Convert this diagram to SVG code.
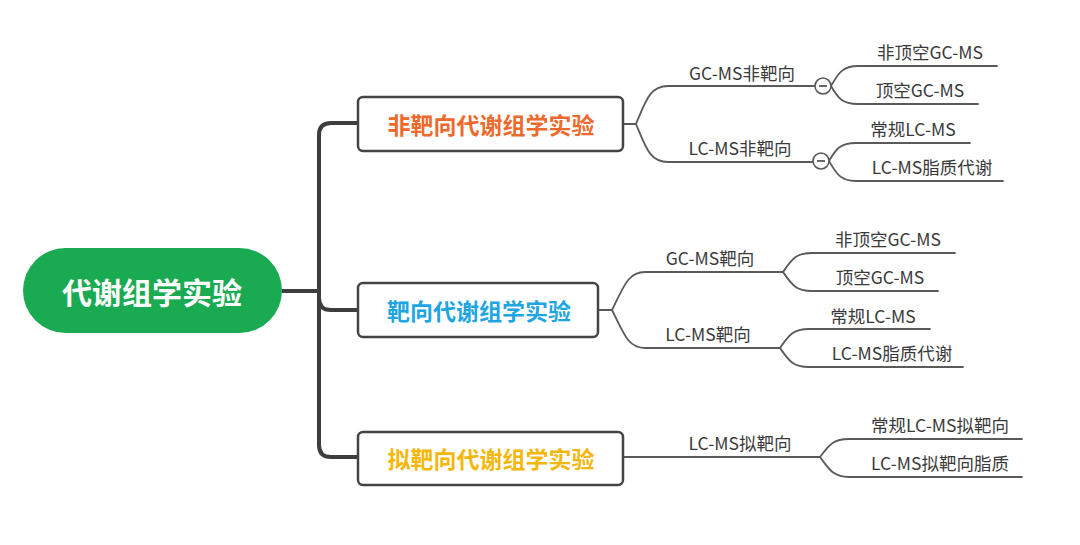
<svg xmlns="http://www.w3.org/2000/svg" width="1080" height="545" viewBox="0 0 1080 545">
<style>
.trunk{fill:none;stroke:#3d3d3d;stroke-width:4;stroke-linecap:butt;stroke-linejoin:round}
.conn{fill:none;stroke:#5a5a5a;stroke-width:1.8;stroke-linecap:round}
.box{fill:#fff;stroke:#444;stroke-width:2.5}
.t1{font-family:"Noto Sans CJK SC","Noto Sans",sans-serif;font-weight:700;font-size:23px;text-anchor:middle;dominant-baseline:central}
.lbl{font-family:"Noto Sans CJK SC","Noto Sans",sans-serif;font-size:17.5px;fill:#3a3a3a;text-anchor:middle;dominant-baseline:central}
.col{fill:#fff;stroke:#5a5a5a;stroke-width:1.6}
</style>
<rect width="1080" height="545" fill="#fff"/>
<g id="connectors">
<path class="trunk" d="M282 291 H319 M358 123 H331 Q319 123 319 135 V445 Q319 457 331 457 H358 M319 298 Q319 310 331 310 H358"/>
<path class="conn" d="M623 124 H636 C646 100 650 86 668 86 H815 M636 124 C646 148 650 162 668 162 H813"/>
<path class="conn" d="M831 86 C838 74 842 66 858 66 H997 M831 86 C838 98 842 104 858 104 H978"/>
<path class="conn" d="M829 161 C836 149 840 143 856 143 H970 M829 161 C836 173 840 181 856 181 H1003"/>
<path class="conn" d="M598 310 H612 C624 286 628 272 645 272 H783 C792 259 796 253 812 253 H955 M783 272 C792 285 796 291 812 291 H938"/>
<path class="conn" d="M612 310 C624 334 628 348 645 348 H780 C789 335 793 329 809 329 H930 M780 348 C789 361 793 367 809 367 H963"/>
<path class="conn" d="M623 457 H820 C829 445 833 439 849 439 H1022 M820 457 C829 469 833 477 849 477 H1022"/>
</g>
<g id="root">
<rect x="23" y="248" width="259" height="85" rx="42.5" fill="#1aab52"/>
<text x="152" y="291" font-family="'Noto Sans CJK SC','Noto Sans',sans-serif" font-weight="700" font-size="30" fill="#fff" text-anchor="middle" dominant-baseline="central">代谢组学实验</text>
</g>
<g id="n1">
<rect class="box" x="358" y="97" width="265" height="54" rx="5"/>
<text class="t1" x="491" y="124" fill="#ee6a2c">非靶向代谢组学实验</text>
</g>
<g id="n2">
<rect class="box" x="358" y="283" width="240" height="54" rx="5"/>
<text class="t1" x="479" y="310" fill="#1ea6e2">靶向代谢组学实验</text>
</g>
<g id="n3">
<rect class="box" x="358" y="432" width="265" height="53" rx="5"/>
<text class="t1" x="491" y="458" fill="#f6b70c">拟靶向代谢组学实验</text>
</g>
<g id="n1a"><text class="lbl" x="742" y="72">GC-MS非靶向</text>
<circle class="col" cx="823" cy="86" r="8"/><path d="M819 86 H827" stroke="#444" stroke-width="1.6"/></g>
<g id="n1a1"><text class="lbl" x="930" y="51">非顶空GC-MS</text></g>
<g id="n1a2"><text class="lbl" x="920" y="89">顶空GC-MS</text></g>
<g id="n1b"><text class="lbl" x="740" y="147">LC-MS非靶向</text>
<circle class="col" cx="821" cy="161" r="8"/><path d="M817 161 H825" stroke="#444" stroke-width="1.6"/></g>
<g id="n1b1"><text class="lbl" x="913" y="128">常规LC-MS</text></g>
<g id="n1b2"><text class="lbl" x="932" y="166">LC-MS脂质代谢</text></g>
<g id="n2a"><text class="lbl" x="710" y="257">GC-MS靶向</text></g>
<g id="n2a1"><text class="lbl" x="888" y="238">非顶空GC-MS</text></g>
<g id="n2a2"><text class="lbl" x="880" y="276">顶空GC-MS</text></g>
<g id="n2b"><text class="lbl" x="708" y="333">LC-MS靶向</text></g>
<g id="n2b1"><text class="lbl" x="873" y="315">常规LC-MS</text></g>
<g id="n2b2"><text class="lbl" x="892" y="352">LC-MS脂质代谢</text></g>
<g id="n3a"><text class="lbl" x="740" y="442">LC-MS拟靶向</text></g>
<g id="n3a1"><text class="lbl" x="940" y="424">常规LC-MS拟靶向</text></g>
<g id="n3a2"><text class="lbl" x="940" y="462">LC-MS拟靶向脂质</text></g>
</svg>
